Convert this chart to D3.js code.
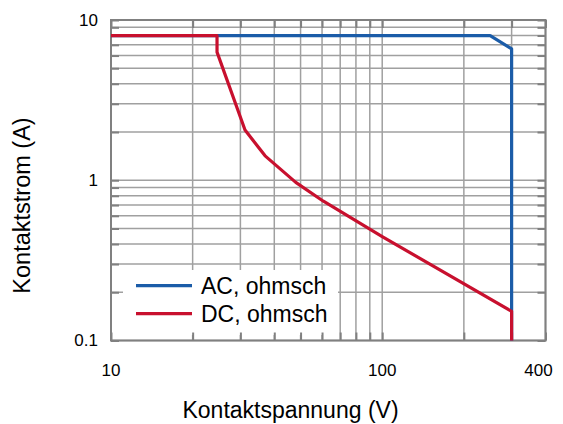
<!DOCTYPE html>
<html>
<head>
<meta charset="utf-8">
<script src="https://cdn.jsdelivr.net/npm/d3@7"></script>
<style>
  html, body { margin: 0; padding: 0; background: #fff; }
  svg { display: block; font-family: "Liberation Sans", Arial, Helvetica, sans-serif; }
</style>
</head>
<body>
<svg id="chart" width="563" height="424"></svg>
<script>
// Contact voltage (V) vs. contact current (A), log-log
const xTickValues = [10, 100, 400];
const xTickLabels = ["10", "100", "400"];
const yTickValues = [0.1, 1, 10];
const yTickLabels = ["0.1", "1", "10"];

const xGrid = [10, 20, 30, 40, 50, 60, 70, 80, 90, 100, 200, 300, 400];
const yGrid = [0.1, 0.2, 0.3, 0.4, 0.5, 0.6, 0.7, 0.8, 0.9, 1, 2, 3, 4, 5, 6, 7, 8, 9, 10];

const acVoltage = [10, 250, 300, 300];
const acCurrent = [8, 8, 6.6, 0.1];

const dcVoltage = [10, 24.6, 24.6, 31.2, 37, 48, 60.7, 100, 300, 300];
const dcCurrent = [8, 8, 6.3, 2.06, 1.42, 0.97, 0.74, 0.445, 0.152, 0.1];

const seriesNames = ["AC, ohmsch", "DC, ohmsch"];
const seriesColors = ["#1b5ca8", "#c8102e"];

const svg = d3.select("#chart");
const plotLeft = 111, plotRight = 545.5, plotTop = 20, plotBottom = 340.5;

const x = d3.scaleLog().domain([10, 400]).range([plotLeft, plotRight]);
const y = d3.scaleLog().domain([0.1, 10]).range([plotBottom, plotTop]);

const gridColor = "#a0a0a0";
const axisColor = "#808080";

// grid
const grid = svg.append("g");
grid.selectAll("line.vx").data(xGrid).join("line")
  .attr("x1", d => x(d)).attr("x2", d => x(d))
  .attr("y1", plotTop).attr("y2", plotBottom)
  .attr("stroke", gridColor).attr("stroke-width", 1.5);
grid.selectAll("line.hy").data(yGrid).join("line")
  .attr("x1", plotLeft).attr("x2", plotRight)
  .attr("y1", d => y(d)).attr("y2", d => y(d))
  .attr("stroke", gridColor).attr("stroke-width", 1.5);

// legend background
const legend = svg.append("g");
legend.append("rect")
  .attr("x", 123).attr("y", 270).attr("width", 215).attr("height", 65)
  .attr("fill", "#fff");

// inward ticks on all four sides
const tickLen = 8;
const xAxisB = d3.axisBottom(x).tickValues(xGrid).tickSize(-tickLen).tickFormat("");
const xAxisT = d3.axisTop(x).tickValues(xGrid).tickSize(-tickLen).tickFormat("");
const yAxisL = d3.axisLeft(y).tickValues(yGrid).tickSize(-tickLen).tickFormat("");
const yAxisR = d3.axisRight(y).tickValues(yGrid).tickSize(-tickLen).tickFormat("");
[[xAxisB, `translate(0,${plotBottom})`], [xAxisT, `translate(0,${plotTop})`],
 [yAxisL, `translate(${plotLeft},0)`], [yAxisR, `translate(${plotRight},0)`]].forEach(([ax, tr]) => {
  const g = svg.append("g").attr("transform", tr).call(ax);
  g.select(".domain").remove();
  g.selectAll(".tick line").attr("stroke", axisColor).attr("stroke-width", 2);
});

// frame
svg.append("rect")
  .attr("x", plotLeft).attr("y", plotTop)
  .attr("width", plotRight - plotLeft).attr("height", plotBottom - plotTop)
  .attr("fill", "none").attr("stroke", axisColor).attr("stroke-width", 2);

// tick labels
svg.append("g").selectAll("text").data(xTickValues).join("text")
  .attr("x", (d, i) => x(d) + (i === xTickValues.length - 1 ? -7 : 0))
  .attr("y", 376)
  .attr("text-anchor", "middle")
  .attr("font-size", 17)
  .text((d, i) => xTickLabels[i]);
svg.append("g").selectAll("text").data(yTickValues).join("text")
  .attr("x", 98)
  .attr("y", d => y(d))
  .attr("dy", "0.35em")
  .attr("text-anchor", "end")
  .attr("font-size", 17)
  .text((d, i) => yTickLabels[i]);

// axis titles
svg.append("text")
  .attr("x", 290.5).attr("y", 418)
  .attr("text-anchor", "middle")
  .attr("font-size", 23)
  .text("Kontaktspannung (V)");
svg.append("text")
  .attr("transform", "translate(30,205.5) rotate(-90)")
  .attr("text-anchor", "middle")
  .attr("font-size", 23.5)
  .text("Kontaktstrom (A)");

// curves
const line = d3.line().x(d => x(d[0])).y(d => y(d[1]));
const acPoints = acVoltage.map((v, i) => [v, acCurrent[i]]);
const dcPoints = dcVoltage.map((v, i) => [v, dcCurrent[i]]);
[acPoints, dcPoints].forEach((pts, i) => {
  svg.append("path")
    .attr("d", line(pts))
    .attr("fill", "none")
    .attr("stroke", seriesColors[i])
    .attr("stroke-width", 3.2)
    .attr("stroke-linejoin", "round");
});

// legend entries
const legendY = [285.7, 313.7];
seriesNames.forEach((name, i) => {
  legend.append("line")
    .attr("x1", 136).attr("x2", 192)
    .attr("y1", legendY[i]).attr("y2", legendY[i])
    .attr("stroke", seriesColors[i]).attr("stroke-width", 3.2);
  legend.append("text")
    .attr("x", 201).attr("y", legendY[i] + 8.5)
    .attr("font-size", 23)
    .text(name);
});
</script>
</body>
</html>
